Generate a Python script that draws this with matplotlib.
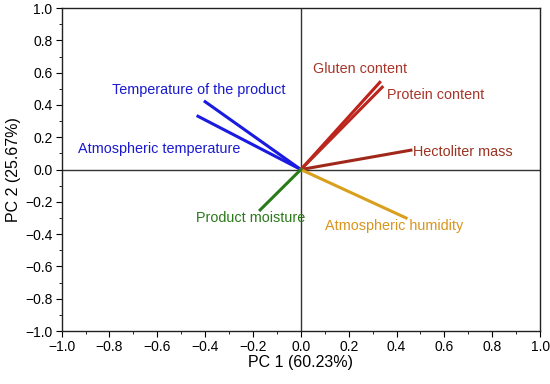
import matplotlib.pyplot as plt
from matplotlib.ticker import MultipleLocator

plt.rcParams['font.family'] = ['Liberation Sans', 'DejaVu Sans']

# loadings (PC1, PC2)
names = ["Temperature of the product", "Atmospheric temperature", "Gluten content",
         "Protein content", "Hectoliter mass", "Atmospheric humidity", "Product moisture"]
pc1 = [-0.40, -0.43, 0.33, 0.34, 0.46, 0.44, -0.17]
pc2 = [0.42, 0.33, 0.54, 0.51, 0.12, -0.30, -0.25]
line_colors = ["#1a1ae0", "#1a1ae0", "#c0221a", "#b8281e", "#a0281a", "#d9a01e", "#2a7a1a"]
text_colors = ["#1a1ad0", "#1a1ad0", "#a8352a", "#a8352a", "#9a3322", "#d9951e", "#2a7a1a"]
label_x = [-0.79, -0.93, 0.05, 0.36, 0.47, 0.10, -0.44]
label_y = [0.49, 0.13, 0.62, 0.46, 0.11, -0.35, -0.30]

fig = plt.figure(figsize=(5.5, 3.84), dpi=100)
ax = fig.add_axes([0.112, 0.138, 0.870, 0.841])

ax.axhline(0, color="#333333", lw=1.0, zorder=1)
ax.axvline(0, color="#333333", lw=1.0, zorder=1)

for i in range(len(names)):
    ax.plot([0, pc1[i]], [0, pc2[i]], color=line_colors[i], lw=2.2, zorder=2)
    ax.text(label_x[i], label_y[i], names[i], color=text_colors[i], fontsize=10.4,
            ha="left", va="center")

ax.set_xlim(-1, 1)
ax.set_ylim(-1, 1)
ax.xaxis.set_major_locator(MultipleLocator(0.2))
ax.xaxis.set_minor_locator(MultipleLocator(0.1))
ax.yaxis.set_major_locator(MultipleLocator(0.2))
ax.yaxis.set_minor_locator(MultipleLocator(0.1))
ax.xaxis.set_major_formatter(lambda v, p: f"{v:.1f}".replace("-", "\u2212"))
ax.yaxis.set_major_formatter(lambda v, p: f"{v:.1f}".replace("-", "\u2212"))
ax.tick_params(which="both", direction="out", labelsize=10, colors="black")
ax.tick_params(which="major", length=4, pad=2.5)
ax.tick_params(which="minor", length=2.5)
for s in ax.spines.values():
    s.set_color("#222222")
    s.set_linewidth(1.0)

ax.set_xlabel("PC 1 (60.23%)", fontsize=11.5, labelpad=1)
ax.set_ylabel("PC 2 (25.67%)", fontsize=11.5, labelpad=3)

fig.savefig("out.png", dpi=100)
